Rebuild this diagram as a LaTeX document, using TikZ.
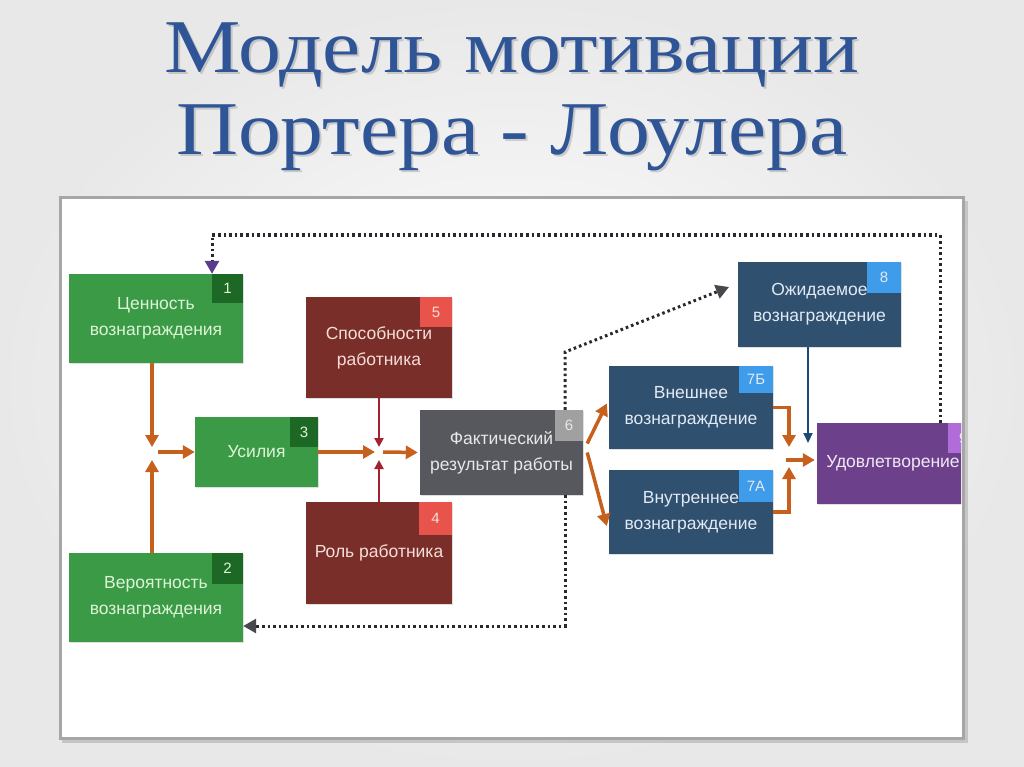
\documentclass[tikz,border=0pt]{standalone}
\usepackage{fontspec}
\setmainfont{Liberation Serif}
\newfontfamily\boxfont{Liberation Sans}
\usetikzlibrary{arrows.meta,calc,shadows}
\definecolor{cgreen}{RGB}{58,154,70}
\definecolor{cgreenb}{RGB}{30,104,38}
\definecolor{cgreent}{RGB}{222,244,214}
\definecolor{cbrown}{RGB}{122,46,42}
\definecolor{cbrownb}{RGB}{232,84,76}
\definecolor{cbrownt}{RGB}{244,222,214}
\definecolor{cgray}{RGB}{86,88,94}
\definecolor{cgrayb}{RGB}{160,160,160}
\definecolor{cgrayt}{RGB}{232,232,232}
\definecolor{cnavy}{RGB}{48,80,112}
\definecolor{cnavyb}{RGB}{62,156,234}
\definecolor{cnavyt}{RGB}{226,234,244}
\definecolor{cpurple}{RGB}{108,64,138}
\definecolor{cpurpleb}{RGB}{178,108,218}
\definecolor{cpurplet}{RGB}{240,232,246}
\definecolor{corange}{RGB}{198,96,28}
\definecolor{cred}{RGB}{164,34,48}
\definecolor{cblue}{RGB}{30,72,118}
\definecolor{cdot}{RGB}{40,40,48}
\definecolor{cdotp}{RGB}{92,58,142}
\definecolor{ctitle}{RGB}{47,85,151}
\tikzset{
  box/.style={rectangle, inner sep=0pt, align=center,
    font=\boxfont\fontsize{17.5}{26}\selectfont,
    drop shadow={opacity=0.25, shadow xshift=1pt, shadow yshift=-1pt}},
  greenbox/.style={box, fill=cgreen, text=cgreent},
  brownbox/.style={box, fill=cbrown, text=cbrownt},
  graybox/.style={box, fill=cgray, text=cgrayt},
  navybox/.style={box, fill=cnavy, text=cnavyt},
  purplebox/.style={box, fill=cpurple, text=cpurplet},
  badge/.style={rectangle, inner sep=0pt, anchor=north east,
    font=\boxfont\fontsize{15}{15}\selectfont},
  oarrow/.style={draw=corange, line width=3.5pt, -{Triangle[length=12pt,width=13pt]}},
  rarrow/.style={draw=cred, line width=2.2pt, -{Triangle[length=9pt,width=9pt]}},
  barrow/.style={draw=cblue, line width=2pt, -{Triangle[length=10pt,width=9pt]}},
  dotline/.style={draw=cdot, line width=3pt, dash pattern=on 2.6pt off 3pt},
  titletext/.style={font=\fontsize{76}{76}\selectfont, text=ctitle, anchor=base, inner sep=0pt, xscale=1.13, transform shape},
  shadowtext/.style={font=\fontsize{76}{76}\selectfont, text=black, opacity=0.15, anchor=base, inner sep=0pt, xscale=1.13, transform shape},
}
\begin{document}
\begin{tikzpicture}[x=1pt,y=-1pt]
\useasboundingbox (0,0) rectangle (1024,767);
% background
\shade[inner color=white, outer color=black!9] (0,0) rectangle (1024,767);
% title
\node[shadowtext] (t1s) at (514,75) {Модель мотивации};
\node[shadowtext] (t2s) at (514,157) {Портера - Лоулера};
\node[titletext] (t1) at (512,73) {Модель мотивации};
\node[titletext] (t2) at (512,155) {Портера - Лоулера};
% panel
\fill[black, opacity=0.15] (62,201) rectangle (968,743);
\filldraw[fill=white, draw=black!35, line width=3pt] (60,198) rectangle (963,738);

% boxes
\node[greenbox, minimum width=174pt, minimum height=89pt] (b1) at (156,318.5) {Ценность\\вознаграждения};
\node[badge, fill=cgreenb, text=cgreent, minimum width=31pt, minimum height=29pt] (n1) at (b1.north east) {1};
\node[greenbox, minimum width=174pt, minimum height=89pt] (b2) at (156,597.5) {Вероятность\\вознаграждения};
\node[badge, fill=cgreenb, text=cgreent, minimum width=31pt, minimum height=31pt] (n2) at (b2.north east) {2};
\node[greenbox, minimum width=123pt, minimum height=70pt] (b3) at (256.5,452) {Усилия};
\node[badge, fill=cgreenb, text=cgreent, minimum width=28pt, minimum height=30pt] (n3) at (b3.north east) {3};
\node[brownbox, minimum width=146pt, minimum height=101pt] (b5) at (379,347.5) {Способности\\работника};
\node[badge, fill=cbrownb, text=cbrownt, minimum width=32pt, minimum height=30pt] (n5) at (b5.north east) {5};
\node[brownbox, minimum width=146pt, minimum height=102pt] (b4) at (379,553) {Роль работника};
\node[badge, fill=cbrownb, text=cbrownt, minimum width=33pt, minimum height=33pt] (n4) at (b4.north east) {4};
\node[graybox, minimum width=163pt, minimum height=85pt] (b6) at (501.5,452.5) {Фактический\\результат работы};
\node[badge, fill=cgrayb, text=cgrayt, minimum width=28pt, minimum height=31pt] (n6) at (b6.north east) {6};
\node[navybox, minimum width=164pt, minimum height=83pt] (b7b) at (691,407.5) {Внешнее\\вознаграждение};
\node[badge, fill=cnavyb, text=cnavyt, minimum width=34pt, minimum height=27pt] (n7b) at (b7b.north east) {7Б};
\node[navybox, minimum width=164pt, minimum height=84pt] (b7a) at (691,512) {Внутреннее\\вознаграждение};
\node[badge, fill=cnavyb, text=cnavyt, minimum width=34pt, minimum height=32pt] (n7a) at (b7a.north east) {7А};
\node[navybox, minimum width=163pt, minimum height=85pt] (b8) at (819.5,304.5) {Ожидаемое\\вознаграждение};
\node[badge, fill=cnavyb, text=cnavyt, minimum width=34pt, minimum height=31pt] (n8) at (b8.north east) {8};
\begin{scope}
\clip (0,0) rectangle (961,767);
\node[purplebox, minimum width=152pt, minimum height=81pt] (b9) at (893,463.5) {Удовлетворение};
\node[badge, fill=cpurpleb, text=cpurplet, minimum width=30pt, minimum height=30pt, anchor=north west] (n9) at (948,423) {9};
\end{scope}
\draw[black!35, line width=3pt] (963,198) -- (963,738);

% coordinates
\coordinate (j1a) at (152,447);
\coordinate (j1b) at (152,460);
\coordinate (j1r) at (158,452);
\coordinate (j2l) at (375,452);
\coordinate (j2a) at (379,447);
\coordinate (j2b) at (379,460);
\coordinate (j2r) at (383,452);
\coordinate (t9a) at (789,447);
\coordinate (t9b) at (789,467);
\coordinate (j3) at (786,460);
\coordinate (t9c) at (808,443);
\coordinate (c9) at (940,235);
\coordinate (c1) at (212,235);
\coordinate (c6) at (565,352);
\coordinate (t8) at (729,287);
\coordinate (c6b) at (565,626);

% orange connectors
\draw[oarrow] (b1.south -| j1a) -- (j1a);
\draw[oarrow] (b2.north -| j1b) -- (j1b);
\draw[oarrow] (j1r) -- (b3.west);
\draw[oarrow] (b3.east) -- (j2l);
\draw[oarrow, shorten >=2pt] (j2r) -- (b6.west);
\draw[rarrow] (b5.south -| j2a) -- (j2a);
\draw[rarrow] (b4.north -| j2b) -- (j2b);
\draw[oarrow] ([xshift=4pt,yshift=9pt]b6.east) -- ([xshift=-2pt,yshift=4pt]b7b.west);
\draw[oarrow] ([xshift=4pt]b6.east) -- ([xshift=-2pt,yshift=-14pt]b7a.west);
\draw[oarrow] (b7b.east) -| (t9a);
\draw[oarrow] (b7a.east) -| (t9b);
\draw[oarrow, shorten >=2pt] (j3) -- (j3 -| b9.west);
\draw[barrow] (b8.south -| t9c) -- (t9c);

% dotted feedback lines
\draw[dotline, -{Triangle[length=13pt,width=14pt,color=cdotp]}] (b9.north -| c9) -- (c9) -- (c1) -- (c1 |- b1.north);
\draw[dotline, -{Triangle[length=13pt,width=14pt,color=cdot!85]}] (b6.north -| c6) -- (c6) -- (t8);
\draw[dotline, -{Triangle[length=13pt,width=14pt,color=cdot!85]}] (b6.south -| c6b) -- (c6b) -- (c6b -| b2.east);
\end{tikzpicture}
\end{document}
